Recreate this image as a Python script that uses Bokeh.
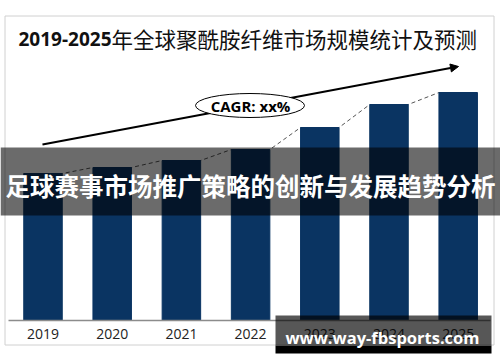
from bokeh.plotting import figure
from bokeh.models import Range1d, Arrow, NormalHead, ColumnDataSource
from bokeh.core.properties import value
from bokeh.embed import file_html
from bokeh.resources import INLINE

# ---- data ----
years = ["2019", "2020", "2021", "2022", "2023", "2024", "2025"]
market_size = [147, 153, 160, 171, 193, 216, 228]
title_year = "2019-2025"
title_text = "年全球聚酰胺纤维市场规模统计及预测"
cagr_label = "CAGR: xx%"
banner_text = "足球赛事市场推广策略的创新与发展趋势分析"
watermark_text = "www.way-fbsports.com"

# ---- layout helpers (picture px -> data coords) ----
X0, DX, BASE = 42.5, 69.2, 320.0
def sx(px):
    return (px - X0) / DX
def sy(py):
    return BASE - py

W, H = 500, 362
p = figure(width=W, height=H, output_backend="svg", toolbar_location=None,
           x_axis_type=None, y_axis_type=None, min_border=0,
           x_range=Range1d(sx(0), sx(W)), y_range=Range1d(sy(H), sy(0)))
p.outline_line_color = None
p.grid.visible = False
p.background_fill_color = "white"

idx = list(range(len(years)))
bw = 38.5 / DX
BAR = "#0a3462"

# outer light border
p.quad(left=[sx(4.5)], right=[sx(493.5)], top=[sy(15.5)], bottom=[sy(344.5)],
       fill_color=None, line_color="#d0d0d0", line_width=1)

# title
p.text(x=[sx(18)], y=[sy(38)], text=[title_year], text_font=value("Open Sans"),
       text_font_style="bold", text_font_size="19px", text_color="#111111",
       text_align="left", text_baseline="middle")
p.text(x=[sx(111)], y=[sy(38)], text=[title_text], text_font=value("Noto Sans CJK SC"),
       text_font_size="21.5px", text_color="#111111",
       text_align="left", text_baseline="middle")

# dashed line joining bar tops (under the bars)
lx, ly = [], []
for i, v in zip(idx, market_size):
    lx += [i - bw / 2, i + bw / 2]
    ly += [v, v]
p.line(lx, ly, line_color="#555555", line_width=1, line_dash="4 3")

# bars
src = ColumnDataSource(dict(x=idx, top=market_size, year=years))
p.vbar(x="x", top="top", bottom=0, width=bw, source=src, fill_color=BAR,
       line_color=BAR)

# baseline
p.segment(x0=[sx(8)], x1=[sx(490)], y0=[0], y1=[0], line_color="#8c8c8c", line_width=1.5)

# year labels
p.text(x="x", y=sy(333), text="year", source=src, text_font=value("Open Sans"),
       text_font_size="14px", text_color="#222222", text_align="center",
       text_baseline="middle")

# CAGR arrow (behind the ellipse)
arrow = Arrow(x_start=sx(42), y_start=sy(144), x_end=sx(458), y_end=sy(66),
              line_width=2, line_color="black",
              end=NormalHead(size=8, fill_color="black", line_color="black"),
              level="underlay")
p.add_layout(arrow)
p.ellipse(x=[sx(249.5)], y=[sy(105)], width=109 / DX, height=24,
          fill_color="white", line_color="black", line_width=1)
p.text(x=[sx(250)], y=[sy(105)], text=[cagr_label], text_font=value("Open Sans"),
       text_font_style="bold", text_font_size="15px", text_color="black",
       text_align="center", text_baseline="middle")

# overlay banner
p.quad(left=[sx(0)], right=[sx(500)], top=[sy(147)], bottom=[sy(215)],
       fill_color="black", fill_alpha=0.58, line_color=None)
p.text(x=[sx(250)], y=[sy(185)], text=[banner_text], text_font=value("Noto Sans CJK SC"),
       text_font_style="bold", text_font_size="24.5px", text_color="white",
       text_align="center", text_baseline="middle")

# watermark box
p.quad(left=[sx(275)], right=[sx(491)], top=[sy(315)], bottom=[sy(345)],
       fill_color="black", fill_alpha=0.66, line_color=None)
p.quad(left=[sx(275)], right=[sx(491)], top=[sy(345)], bottom=[sy(353)],
       fill_color="black", fill_alpha=1.0, line_color=None)
p.text(x=[sx(382)], y=[sy(337)], text=[watermark_text], text_font=value("Open Sans"),
       text_font_style="bold", text_font_size="16.5px", text_color="white",
       text_align="center", text_baseline="middle")

open("out.html", "w").write(file_html(p, INLINE))
